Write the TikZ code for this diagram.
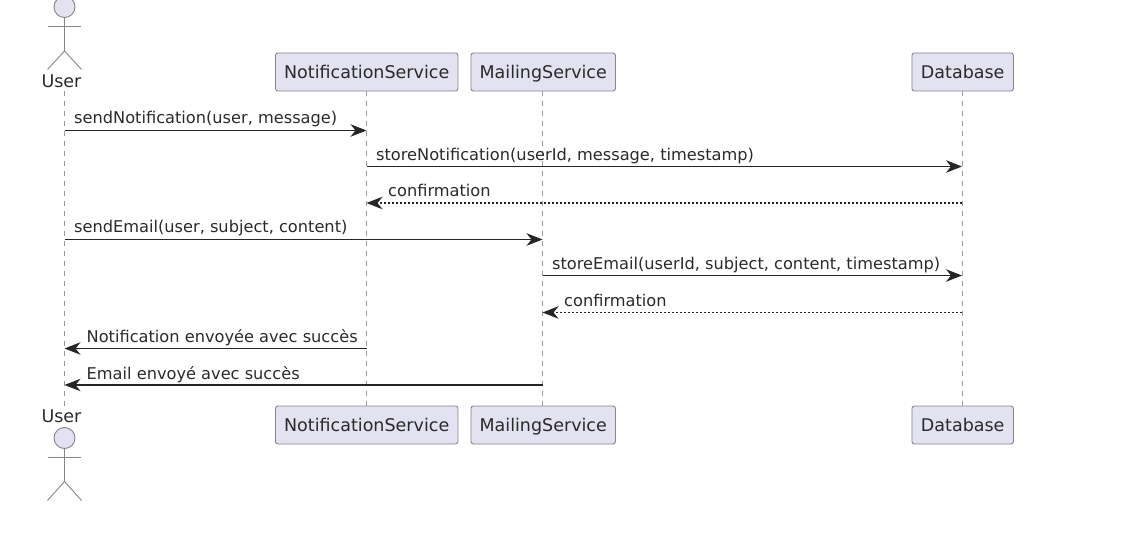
\documentclass[tikz,border=0pt]{standalone}
\usepackage{fontspec}
\setmainfont{DejaVu Sans}
\usetikzlibrary{arrows.meta}
\definecolor{pfill}{HTML}{E2E2F0}
\definecolor{pline}{HTML}{85858C}
\definecolor{lline}{HTML}{9A9A9A}
\definecolor{ptext}{HTML}{2A2A2A}
\definecolor{parrow}{HTML}{262626}
\tikzset{
  x=1pt,y=-1pt,
  partbox/.style={draw=pline,fill=pfill,rounded corners=2.5pt,line width=0.9pt,inner sep=0pt,text=ptext,font=\fontsize{17.5}{20}\selectfont,anchor=center,minimum height=38pt,text height=13pt,text depth=0.5pt},
  actorname/.style={text=ptext,font=\fontsize{17.5}{20}\selectfont,inner sep=0pt,anchor=center,text height=13pt,text depth=0.5pt},
  lifeline/.style={draw=lline,line width=1pt,dash pattern=on 5pt off 5pt},
  stick/.style={draw=pline,line width=0.9pt},
  head/.style={draw=pline,fill=pfill,circle,line width=0.9pt,minimum size=21pt,inner sep=0pt},
  msg/.style={draw=parrow,line width=1.1pt,-{Stealth[length=16pt,width=12.5pt,inset=5pt]}},
  reply/.style={msg,dash pattern=on 2pt off 2pt},
  msglabel/.style={text=ptext,font=\fontsize{16.2}{19}\selectfont,inner sep=0pt,anchor=base west},
}
\begin{document}
\begin{tikzpicture}
\useasboundingbox (0,0) rectangle (1132,537);
% participants
\node[actorname] (userT) at (61.5,81.5) {User};
\node[actorname] (userB) at (61.5,416) {User};
\node[partbox,minimum width=182.5pt] (nsT) at (366.7,72) {NotificationService};
\node[partbox,minimum width=144.5pt] (msT) at (543.2,72) {MailingService};
\node[partbox,minimum width=101.5pt] (dbT) at (962.7,72) {Database};
\node[partbox,minimum width=182.5pt] (nsB) at (366.7,425) {NotificationService};
\node[partbox,minimum width=144.5pt] (msB) at (543.2,425) {MailingService};
\node[partbox,minimum width=101.5pt] (dbB) at (962.7,425) {Database};
% anchors on lifelines
\coordinate (uS) at (64.5,91);
\coordinate (uE) at (64.5,406);
\coordinate (nL) at (366.5,0);
\coordinate (mL) at (542.5,0);
\coordinate (dL) at (962,0);
% lifelines
\draw[lifeline] (uS) -- (uE);
\draw[lifeline] (nL |- nsT.south) -- (nL |- nsB.north);
\draw[lifeline] (mL |- msT.south) -- (mL |- msB.north);
\draw[lifeline] (dL |- dbT.south) -- (dL |- dbB.north);
% actors
\node[head] (headT) at (64.5,7) {};
\coordinate (hipT) at (64.5,51);
\coordinate (alT) at (48,26);
\coordinate (arT) at (81,26);
\coordinate (llT) at (47.5,69.5);
\coordinate (lrT) at (81.5,69.5);
\draw[stick] (headT.south) -- (hipT);
\draw[stick] (alT) -- (arT);
\draw[stick] (llT) -- (hipT) -- (lrT);
\node[head] (headB) at (64.5,438) {};
\coordinate (hipB) at (64.5,481.5);
\coordinate (alB) at (48,457.5);
\coordinate (arB) at (81,457.5);
\coordinate (llB) at (47.5,500.5);
\coordinate (lrB) at (81.5,500.5);
\draw[stick] (headB.south) -- (hipB);
\draw[stick] (alB) -- (arB);
\draw[stick] (llB) -- (hipB) -- (lrB);
% message rows
\coordinate (r1) at (0,130.5);
\coordinate (r2) at (0,166.5);
\coordinate (r3) at (0,203);
\coordinate (r4) at (0,239.5);
\coordinate (r5) at (0,275.5);
\coordinate (r6) at (0,312.5);
\coordinate (r7) at (0,348.5);
\coordinate (r8) at (0,385);
\draw[msg] (uS |- r1) -- (nL |- r1);
\draw[msg] (nL |- r2) -- (dL |- r2);
\draw[reply] (dL |- r3) -- (nL |- r3);
\draw[msg] (uS |- r4) -- (mL |- r4);
\draw[msg] (mL |- r5) -- (dL |- r5);
\draw[reply] (dL |- r6) -- (mL |- r6);
\draw[msg] (nL |- r7) -- (uS |- r7);
\draw[msg] (mL |- r8) -- (uS |- r8);
% labels
\node[msglabel] (l1) at (74,124) {sendNotification(user, message)};
\node[msglabel] (l2) at (376,160.5) {storeNotification(userId, message, timestamp)};
\node[msglabel] (l3) at (388,197) {confirmation};
\node[msglabel] (l4) at (74,233) {sendEmail(user, subject, content)};
\node[msglabel] (l5) at (552,269.5) {storeEmail(userId, subject, content, timestamp)};
\node[msglabel] (l6) at (564,306) {confirmation};
\node[msglabel] (l7) at (86.5,342.5) {Notification envoyée avec succès};
\node[msglabel] (l8) at (86.5,379) {Email envoyé avec succès};
\end{tikzpicture}
\end{document}
